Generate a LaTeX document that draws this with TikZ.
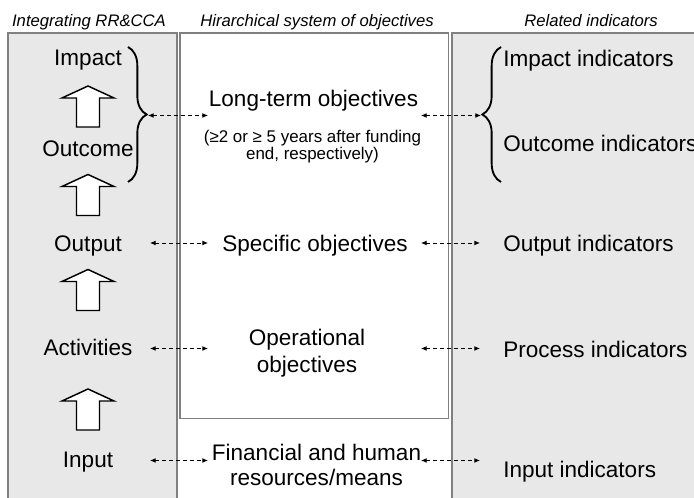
\documentclass[tikz,border=0pt]{standalone}
\usepackage{fontspec}
\setmainfont{Liberation Sans}
\usetikzlibrary{arrows.meta,decorations.pathreplacing}
\definecolor{panelgray}{HTML}{E8E8E8}
\definecolor{bordergray}{HTML}{808080}
\tikzset{
  panel/.style={fill=panelgray,draw=bordergray,line width=1.1pt},
  midpanel/.style={fill=white,draw=bordergray,line width=1.1pt},
  hdr/.style={font=\fontsize{12.5}{15}\selectfont\itshape,anchor=base,inner sep=0pt},
  lbl/.style={font=\fontsize{16.9}{20}\selectfont,anchor=base,inner sep=0pt},
  mlbl/.style={font=\fontsize{16.9}{18.75}\selectfont,align=center,inner sep=0pt},
  small/.style={font=\fontsize{12.7}{12.8}\selectfont,align=center,inner sep=0pt},
  link/.style={dashed,dash pattern=on 3pt off 2.2pt,line width=0.65pt,{Latex[length=4.2pt,width=3.6pt]}-{Latex[length=4.2pt,width=3.6pt]}},
  brc/.style={decorate,line width=1.4pt},
  uparrow/.pic={\draw[line width=1.1pt,fill=white,line join=miter]
     (-11.5,0) -- (-11.5,-29) -- (-26,-29) -- (0,-41) -- (26,-29) -- (11.5,-29) -- (11.5,0) -- cycle;}
}
\begin{document}
\begin{tikzpicture}[x=0.75pt,y=-0.75pt]
\useasboundingbox (0,0) rectangle (694,498);
\begin{scope}
\clip (0,0) rectangle (694,498);
\draw[panel] (8,33) rectangle (177,510);
\draw[panel] (452,33) rectangle (710,510);
\draw[midpanel] (180,33) rectangle (448.5,418.5);
\end{scope}

% headers
\node[hdr] (h1) at (89,27) {Integrating RR\&CCA};
\node[hdr] (h2) at (317,27) {Hirarchical system of objectives};
\node[hdr] (h3) at (591,27) {Related indicators};

% left column
\node[lbl] (impact) at (88,66) {Impact};
\node[lbl] (outcome) at (88,157) {Outcome};
\node[lbl] (output) at (88,251.5) {Output};
\node[lbl] (activ) at (88,356) {Activities};
\node[lbl] (input) at (88,468) {Input};

\pic at (88,127) {uparrow};
\pic at (88,215.5) {uparrow};
\pic at (88,310.5) {uparrow};
\pic at (88,430) {uparrow};

% middle column
\node[lbl] (lto) at (313.5,107) {Long-term objectives};
\node[small] (ltn) at (312.5,147) {(≥2 or ≥ 5 years after funding\\end, respectively)};
\node[lbl] (spec) at (315,251.5) {Specific objectives};
\node[mlbl,font=\fontsize{16.9}{20.25}\selectfont] (oper) at (307,353) {Operational\\objectives};
\node[mlbl] (fin) at (316.5,465) {Financial and human\\resources/means};

% right column
\node[lbl,anchor=base west] (impi) at (503,67) {Impact indicators};
\node[lbl,anchor=base west] (outci) at (503,152) {Outcome indicators};
\node[lbl,anchor=base west] (outpi) at (503,251.5) {Output indicators};
\node[lbl,anchor=base west] (proci) at (503,358) {Process indicators};
\node[lbl,anchor=base west] (inpi) at (503,477.5) {Input indicators};

% braces
\draw[brc,decoration={brace,amplitude=14pt,aspect=0.5}] (128,47) -- (128,182)
  coordinate[pos=0.5] (bl);
\draw[brc,decoration={brace,amplitude=14pt,aspect=0.5}] (501,182) -- (501,47)
  coordinate[pos=0.5] (br);

% link end points
\coordinate (l1a) at (148,115.5); \coordinate (l1b) at (208,115.5);
\coordinate (r1a) at (421,115.5); \coordinate (r1b) at (481,115.5);
\coordinate (l2a) at (150,243); \coordinate (l2b) at (208,243);
\coordinate (r2a) at (421,243); \coordinate (r2b) at (480,243);
\coordinate (l3a) at (150,348.5); \coordinate (l3b) at (208,348.5);
\coordinate (r3a) at (421,348.5); \coordinate (r3b) at (480,348.5);
\coordinate (l4a) at (150,460.5); \coordinate (l4b) at (208,460.5);
\coordinate (r4a) at (421,460.5); \coordinate (r4b) at (480,460.5);

\draw[link] (l1a) -- (l1b);
\draw[link] (r1a) -- (r1b);
\draw[link] (l2a) -- (l2b);
\draw[link] (r2a) -- (r2b);
\draw[link] (l3a) -- (l3b);
\draw[link] (r3a) -- (r3b);
\draw[link] (l4a) -- (l4b);
\draw[link] (r4a) -- (r4b);
\end{tikzpicture}
\end{document}
